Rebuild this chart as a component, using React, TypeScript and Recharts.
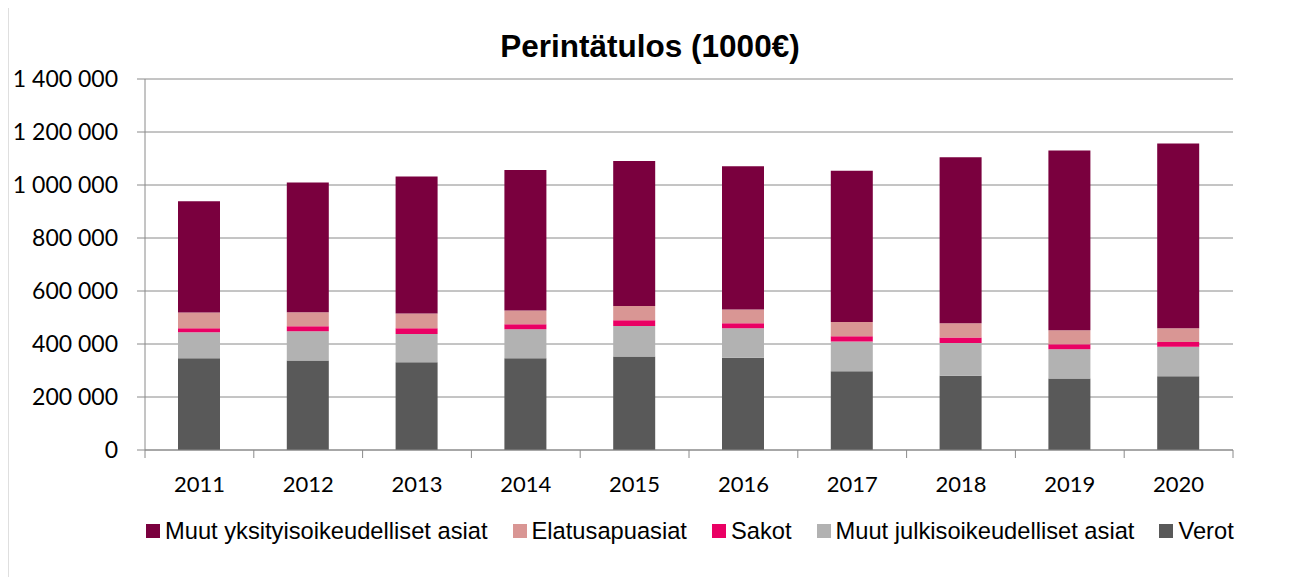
import { BarChart, Bar, XAxis, YAxis, CartesianGrid, Legend } from "recharts";

// Perintätulos (1000€), luvut kuvasta arvioitu
const years = ["2011", "2012", "2013", "2014", "2015", "2016", "2017", "2018", "2019", "2020"];
const verot = [346000, 338000, 331000, 346000, 353000, 348000, 297000, 280000, 270000, 278000];
const muutJulkis = [98000, 110000, 107000, 110000, 115000, 111000, 112000, 124000, 110000, 112000];
const sakot = [15000, 19000, 21000, 19000, 22000, 19000, 20000, 21000, 19000, 18000];
const elatus = [60000, 53000, 56000, 51000, 53000, 52000, 54000, 53000, 53000, 51000];
const muutYks = [420000, 489000, 517000, 531000, 548000, 541000, 571000, 627000, 678000, 698000];
const yTicks = [0, 200000, 400000, 600000, 800000, 1000000, 1200000, 1400000];

// pinoamisjärjestys alhaalta ylös
const seriesKeys = ["verot", "muutJulkis", "sakot", "elatus", "muutYks"];
const seriesNames = ["Verot", "Muut julkisoikeudelliset asiat", "Sakot", "Elatusapuasiat", "Muut yksityisoikeudelliset asiat"];
const seriesColors = ["#595959", "#b2b2b2", "#ea0064", "#d99694", "#7a003e"];

const data = years.map((year, i) => ({
  year,
  verot: verot[i],
  muutJulkis: muutJulkis[i],
  sakot: sakot[i],
  elatus: elatus[i],
  muutYks: muutYks[i],
}));

const AXIS = "#8a8a8a";
const TICK_MARGIN = 26;
const fmt = (v: number) => String(v).replace(/\B(?=(\d{3})+(?!\d))/g, " ");

// vuosiluku kategorian keskelle, jakoviiva kategorioiden rajalle (Excel-tyyli)
function YearTick(props: any) {
  const { x, y, payload, index, visibleTicksCount, width } = props;
  const half = width / visibleTicksCount / 2;
  const top = y - TICK_MARGIN;
  const isLast = index === visibleTicksCount - 1;
  return (
    <g>
      <line x1={x - half} x2={x - half} y1={top} y2={top + 8} stroke={AXIS} />
      {isLast && <line x1={x + half} x2={x + half} y1={top} y2={top + 8} stroke={AXIS} />}
      <text x={x} y={y} dy="0.71em" textAnchor="middle" fontFamily="Lato, sans-serif" fontSize={22} fill="#000">
        {payload.value}
      </text>
    </g>
  );
}

function LegendContent() {
  // legenda käänteisessä järjestyksessä kuten Excelissä
  const idx = seriesNames.map((_, i) => i).reverse();
  return (
    <div style={{ display: "flex", alignItems: "center", paddingLeft: 138, height: 30 }}>
      {idx.map((i) => (
        <div key={seriesKeys[i]} style={{ display: "flex", alignItems: "center", marginRight: 25 }}>
          <span style={{ width: 14, height: 14, background: seriesColors[i], marginRight: 5, display: "inline-block" }} />
          <span style={{ fontFamily: "'Liberation Sans', Arial, sans-serif", fontSize: 23.7, color: "#000", whiteSpace: "nowrap" }}>
            {seriesNames[i]}
          </span>
        </div>
      ))}
    </div>
  );
}

export default function App() {
  return (
    <div style={{ position: "relative", width: 1278, height: 573, marginLeft: -1, marginTop: -3, background: "#fff" }}>
      {/* kaavion kehys */}
      <svg
        width={1278}
        height={582}
        style={{ position: "absolute", left: 0, top: 0, pointerEvents: "none", zIndex: 2, overflow: "visible" }}
      >
        <rect x={0.5} y={0.5} width={1277} height={581} fill="none" stroke="#7f7f7f" strokeWidth={1.5} />
      </svg>
      <div
        style={{
          position: "absolute",
          top: 25,
          left: 5,
          width: 1276,
          textAlign: "center",
          fontFamily: "'Liberation Sans', Arial, sans-serif",
          fontWeight: "bold",
          fontSize: 31.5,
          lineHeight: "32px",
          color: "#000",
          zIndex: 1,
        }}
      >
        Perintätulos (1000€)
      </div>
      <div style={{ position: "absolute", left: 1, top: 1 }}>
        <BarChart width={1276} height={570} data={data} margin={{ top: 73, right: 51, left: 0, bottom: 55 }}>
          <CartesianGrid vertical={false} stroke={AXIS} />
          <XAxis
            dataKey="year"
            height={41}
            axisLine={{ stroke: AXIS }}
            tickLine={false}
            tickSize={0}
            tickMargin={TICK_MARGIN}
            tick={<YearTick />}
          />
          <YAxis
            width={137}
            domain={[0, 1400000]}
            ticks={yTicks}
            tickFormatter={fmt}
            tickSize={8}
            tickMargin={19}
            axisLine={{ stroke: AXIS }}
            tickLine={{ stroke: AXIS }}
            tick={{ fontFamily: "Lato, sans-serif", fontSize: 23, fill: "#000" }}
          />
          <Legend content={<LegendContent />} wrapperStyle={{ left: 0, top: 510, width: 1276 }} />
          {seriesKeys.map((k, i) => (
            <Bar
              key={k}
              dataKey={k}
              name={seriesNames[i]}
              stackId="a"
              fill={seriesColors[i]}
              barSize={42}
              isAnimationActive={false}
            />
          ))}
        </BarChart>
      </div>
    </div>
  );
}
